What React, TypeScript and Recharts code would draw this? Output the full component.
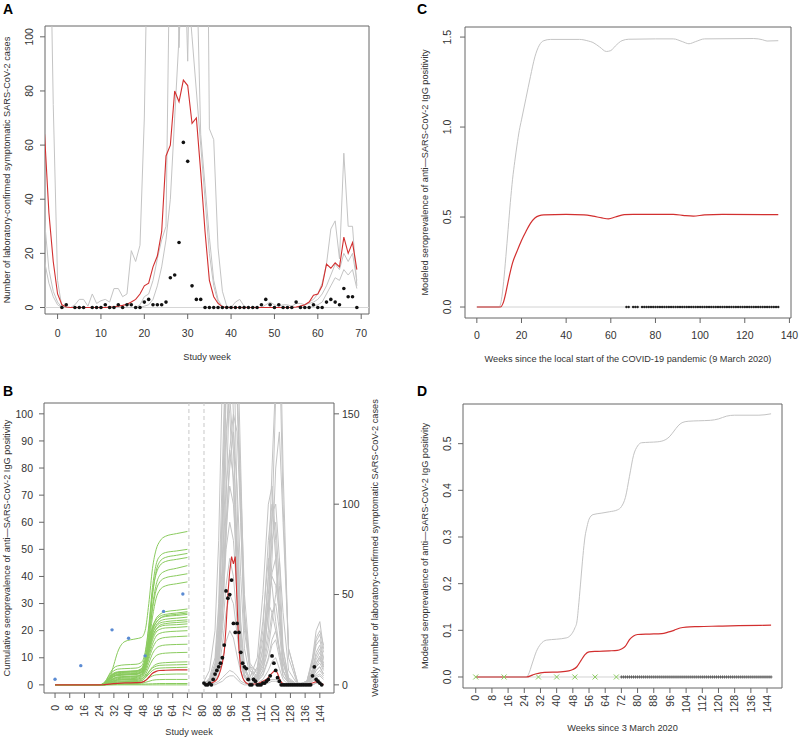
import React from 'react';
import { ComposedChart, Line, Scatter, XAxis, YAxis, ReferenceLine, ReferenceArea } from 'recharts';

const range = (a: number, b: number): number[] => {
  const r: number[] = [];
  for (let i = a; i <= b; i++) r.push(i);
  return r;
};

// ---------------- Panel A ----------------
const weeksA = range(-3, 69);
const medianA = [
  64, 35, 17, 5, 1, 0.2, 0, 0, 0, 0,
  0, 0, 0, 0, 0, 0.2, 0.3, 0.5, 0.8, 1.2,
  2, 3, 5, 8, 9, 15, 19, 28, 56, 60,
  80, 76, 84, 82, 68, 70, 50, 28, 10, 4,
  1.5, 0.3, 0, 0, 0, 0, 0, 0, 0, 0,
  0, 0, 0, 0, 0, 0, 0, 0, 0.2, 0.5,
  1, 2, 4.5, 5, 8, 16, 14.5, 16.5, 15, 26,
  20, 24, 14,
];
const upperA = [
  260, 170, 75, 10, 0, 0, 0, 1, 3, 3,
  0.5, 5, 1.5, 2.5, 3, 2, 7, 7, 4, 5,
  21, 17, 23, 70, 160, 250, 300, 320, 300, 260,
  170, 96, 150, 91, 180, 220, 240, 250, 66, 62,
  22, 6, 0.5, 0, 2, 3, 0.5, 0, 0, 0,
  0, 1, 2, 1, 0.5, 1, 1, 0.5, 1.5, 1.5,
  1, 2, 3, 5, 9, 16, 29, 32, 18, 57,
  30, 30, 8,
];
const middleA = [
  32, 14, 6, 2, 0, 0, 0, 0, 0, 0,
  0, 0, 0, 0, 0, 0, 0, 0, 0, 0,
  0, 0, 1, 4, 5, 10, 18, 25, 30, 150,
  220, 250, 240, 220, 200, 130, 64, 45, 26, 10,
  3, 0, 0, 0, 0, 0, 0, 0, 0, 0,
  0, 0, 0, 0, 0, 0, 0, 0, 0, 0.5,
  1, 1.5, 2, 3, 5, 8, 12, 16, 14, 20,
  17, 20, 10,
];
const lowerA = [
  17, 9, 4, 1, 0, 0, 0, 0, 0, 0,
  0, 0, 0, 0, 0, 0, 0, 0, 0, 0,
  0, 0, 0, 0.5, 1, 3, 8, 15, 25, 40,
  70, 100, 125, 120, 100, 80, 60, 40, 20, 8,
  2, 0, 0, 0, 0, 0, 0, 0, 0, 0,
  0, 0, 0, 0, 0, 0, 0, 0, 0, 0,
  0, 0, 0.5, 1, 2, 5, 8, 11, 10, 14,
  12, 14, 7,
];
const obsWeeksA = range(1, 69);
const obsA: (number | null)[] = [
  0, 1, null, 0, 0, 0, null, 0, 0, 0,
  1, 0, 0, 1, 0, 1, 1, 0, 0, 2,
  3, 1, 1, 1, 2, 11, 12, 24, 61, 54,
  8, 3, 3, 0, 0, 0, 0, 0, 0, 0,
  0, 0, 0, 0, 0, 0, 1, 3, 1, 0,
  1, 0, 0, 0, 2, 0, 0, 0, 1, 0,
  0, 2, 3, 2, 1, 7, 4, 4, 0,
];
const xTicksA = [0, 10, 20, 30, 40, 50, 60, 70];
const yTicksA = [0, 20, 40, 60, 80, 100];

// ---------------- Panel B ----------------
const greenWeeks = [0, 24, 26, 28, 30, 32, 34, 38, 44, 47, 49, 51, 53, 55, 57, 60, 66, 72];
const greenRuns = [
  [0, 0, 0, 0.3, 3, 7.5, 12, 16, 17, 17.5, 20, 30, 43, 50, 53, 54.8, 55.8, 56.6],
  [0, 0, 0.4, 2, 4.5, 6.3, 7, 7.4, 7.6, 8.3, 12, 22, 36, 44.5, 47.5, 48.8, 49.4, 50],
  [0, 0, 0.2, 1, 2.8, 4, 4.5, 4.8, 5, 5.8, 9, 19, 33, 42, 45.5, 47, 47.8, 48.5],
  [0, 0, 0.4, 1.8, 4, 5.2, 5.8, 6, 6.2, 7, 11, 21, 34, 41, 44, 45.5, 46.3, 47],
  [0, 0, 0.2, 1.2, 3, 4, 4.4, 4.6, 4.8, 5.5, 8.5, 17, 29, 37, 40.5, 42, 43, 44],
  [0, 0, 0.3, 1.5, 3.3, 4.4, 4.8, 5, 5.2, 6, 9, 17, 28, 35, 38, 39.5, 40.3, 41],
  [0, 0, 0.1, 0.8, 2.2, 3.2, 3.6, 3.8, 4, 4.6, 7.5, 15, 25, 32, 35, 36.5, 37.3, 38],
  [0, 0, 0.2, 1, 2.5, 3.4, 3.8, 4, 4.2, 5, 8, 15, 21, 24.5, 26, 27, 27.5, 28],
  [0, 0, 0.3, 1.4, 3.1, 4.2, 4.6, 4.9, 5.1, 6, 9.5, 16, 21.5, 24, 25.3, 26, 26.5, 27],
  [0, 0, 0.1, 0.7, 2, 3, 3.4, 3.6, 3.8, 4.5, 7.5, 14, 20, 23, 24.5, 25.5, 26, 26.5],
  [0, 0, 0.2, 1.1, 2.7, 3.7, 4.1, 4.3, 4.5, 5.3, 8.5, 15, 20.5, 23, 24.5, 25.2, 25.6, 26],
  [0, 0, 0.1, 0.6, 1.7, 2.5, 2.9, 3.1, 3.3, 4, 7, 13, 19, 22, 23.5, 24.2, 24.6, 25],
  [0, 0, 0.2, 0.9, 2.3, 3.2, 3.6, 3.8, 4, 4.8, 8, 14, 19, 21.5, 22.8, 23.3, 23.7, 24],
  [0, 0, 0.1, 0.5, 1.5, 2.2, 2.6, 2.8, 3, 3.6, 6.5, 12, 17.5, 20.5, 22, 22.6, 23, 23.3],
  [0, 0, 0.2, 1, 2.4, 3.3, 3.7, 3.9, 4.1, 4.8, 7.5, 13, 18, 20.5, 21.5, 22, 22.2, 22.5],
  [0, 0, 0.1, 0.6, 1.6, 2.4, 2.8, 3, 3.2, 3.8, 6.5, 11.5, 16.5, 19.5, 20.5, 21, 21.2, 21.5],
  [0, 0, 0.1, 0.5, 1.3, 2, 2.3, 2.5, 2.7, 3.3, 5.8, 10.5, 15, 18, 19, 19.5, 19.8, 20],
  [0, 0, 0.1, 0.4, 1.1, 1.7, 2, 2.2, 2.4, 3, 5.2, 9.5, 13.5, 16, 17, 17.5, 17.8, 18],
  [0, 0, 0.1, 0.4, 1, 1.5, 1.8, 2, 2.1, 2.6, 4.5, 8, 11.5, 13.5, 14.3, 14.7, 14.9, 15],
  [0, 0, 0, 0.3, 0.8, 1.2, 1.4, 1.5, 1.6, 2, 3.6, 6.5, 9.2, 10.8, 11.4, 11.7, 11.9, 12],
  [0, 0, 0, 0.2, 0.6, 0.9, 1.1, 1.2, 1.3, 1.6, 2.7, 4.8, 6.6, 7.6, 8, 8.2, 8.4, 8.5],
  [0, 0, 0.1, 0.3, 0.9, 1.4, 1.7, 1.9, 2, 2.3, 3.2, 4.8, 6.2, 6.9, 7.2, 7.3, 7.4, 7.5],
  [0, 0, 0, 0.2, 0.5, 0.8, 1, 1.1, 1.2, 1.5, 2.5, 4, 5.3, 6, 6.2, 6.3, 6.4, 6.5],
  [0, 0, 0, 0.1, 0.3, 0.5, 0.6, 0.7, 0.8, 1, 1.6, 2.6, 3.3, 3.7, 3.8, 3.9, 4, 4],
  [0, 0, 0, 0.1, 0.2, 0.3, 0.4, 0.4, 0.5, 0.6, 0.9, 1.3, 1.7, 1.9, 1.95, 2, 2, 2],
  [0, 0, 0, 0, 0.05, 0.1, 0.15, 0.2, 0.2, 0.25, 0.3, 0.35, 0.4, 0.45, 0.5, 0.5, 0.5, 0.5],
  [0, 0, 0, 0, 0, 0, 0, 0, 0, 0, 0, 0, 0, 0, 0, 0, 0, 0],
];
const seroMedianB = [0, 0, 0.05, 0.15, 0.3, 0.45, 0.55, 0.7, 0.8, 0.9, 1.5, 2.8, 4.3, 5, 5.3, 5.4, 5.5, 5.5];
const seroWeeks = [0, 14, 31, 40, 49, 59, 69.5];
const seroObserved = [2.1, 7.1, 20.3, 17.2, 10.7, 27.1, 33.5];

const grayWeeksB = [81, 84, 87, 89, 91, 93, 95, 97, 99, 101, 103, 106, 110, 113, 116, 118, 120, 122, 124, 127, 132, 137, 140, 142, 144, 146];
const grayRunsB = [
  [2, 8, 30, 80, 170, 280, 300, 240, 160, 90, 30, 8, 5, 12, 40, 90, 160, 220, 120, 15, 0, 2, 15, 30, 35, 20],
  [0, 3, 10, 30, 90, 200, 250, 260, 200, 120, 40, 10, 8, 25, 45, 40, 30, 20, 8, 1, 0, 0, 4, 8, 10, 6],
  [1, 2, 8, 25, 70, 160, 220, 200, 100, 30, 8, 4, 15, 50, 100, 110, 80, 40, 15, 2, 0, 1, 8, 16, 20, 12],
  [0, 4, 15, 45, 120, 190, 200, 150, 60, 20, 5, 2, 6, 20, 45, 60, 55, 40, 20, 4, 0, 2, 12, 22, 25, 15],
  [1, 1, 5, 15, 40, 100, 170, 180, 160, 110, 50, 12, 6, 15, 60, 120, 170, 190, 100, 20, 1, 0, 2, 4, 5, 3],
  [0, 2, 10, 35, 100, 165, 150, 110, 50, 15, 4, 1, 2, 6, 15, 25, 30, 18, 5, 1, 0, 2, 14, 26, 30, 22],
  [1, 3, 12, 40, 90, 140, 160, 130, 80, 35, 10, 3, 4, 15, 50, 80, 90, 55, 15, 3, 0, 1, 6, 12, 15, 10],
  [0, 1, 4, 12, 35, 80, 130, 150, 140, 90, 35, 8, 3, 8, 20, 35, 50, 70, 40, 8, 0, 0, 3, 6, 8, 5],
  [0, 2, 8, 25, 60, 110, 130, 115, 70, 25, 8, 2, 10, 35, 70, 55, 35, 20, 8, 2, 0, 1, 9, 18, 22, 14],
  [1, 2, 6, 18, 45, 85, 110, 100, 65, 30, 10, 3, 5, 20, 60, 95, 100, 70, 20, 3, 0, 1, 5, 10, 12, 8],
  [0, 1, 5, 15, 40, 75, 90, 80, 50, 20, 6, 1, 2, 5, 14, 22, 25, 15, 5, 1, 0, 2, 12, 24, 28, 18],
  [0, 1, 4, 12, 30, 55, 70, 60, 35, 14, 5, 1, 2, 8, 25, 40, 45, 30, 8, 1, 0, 1, 7, 14, 18, 11],
  [0, 1, 3, 9, 22, 40, 50, 45, 28, 12, 4, 1, 3, 12, 40, 62, 70, 45, 12, 2, 0, 0, 2, 5, 6, 4],
  [0, 0, 2, 6, 14, 24, 30, 26, 16, 7, 2, 0, 1, 3, 8, 13, 15, 9, 3, 0, 0, 1, 4, 8, 10, 6],
  [0, 0, 1, 2, 4, 6, 8, 7, 5, 2, 1, 0, 0, 1, 2, 3, 3, 2, 1, 0, 0, 0, 0, 1, 1, 0],
  [0, 0, 0, 1, 2, 4, 5, 5, 3, 1, 0, 0, 0, 0, 1, 2, 2, 1, 0, 0, 0, 0, 0, 1, 1, 0],
  [0, 1, 6, 20, 60, 130, 180, 200, 170, 100, 40, 10, 4, 10, 30, 70, 120, 140, 90, 20, 1, 1, 6, 12, 16, 10],
  [0, 2, 8, 22, 50, 90, 120, 140, 110, 60, 20, 5, 8, 30, 80, 100, 70, 35, 12, 2, 0, 1, 5, 10, 14, 9],
];
const caseWeeksB = range(81, 146);
const caseMedianB = [
  0.5, 0.5, 0.5, 1, 1, 1.5, 2, 3, 5, 8,
  12, 18, 32, 50, 63, 71, 67, 71, 45, 20,
  8, 4, 2, 1, 0.5, 0.3, 0.3, 0.5, 0.5, 0.8,
  1, 1.5, 2, 2.5, 3, 4, 5.5, 6.5, 7.5, 8,
  6.5, 3.5, 1.5, 0.5, 0.2, 0, 0, 0, 0, 0,
  0, 0, 0, 0, 0, 0, 0.2, 0.5, 0.8, 1,
  1.5, 1.8, 1.5, 1.2, 0.6, 0.2,
];
const obsWeeksB = range(81, 145);
const obsB = [
  1, 0, 0, 1, 0, 3, 6, 8, 10, 12,
  15, 22, 52, 48, 50, 58, 34, 29, 34, 29,
  18, 12, 10, 9, 3, 0, 0, 3, 2, 0,
  0, 0, 1, 1, 2, 3, 5, 16, 12, 8,
  4, 2, 0, 0, 0, 0, 0, 0, 0, 0,
  0, 0, 0, 0, 0, 0, 0, 0, 0, 5,
  10, 3, 2, 1, 0,
];
const xTicksB = [0, 8, 16, 24, 32, 40, 48, 56, 64, 72, 80, 88, 96, 104, 112, 120, 128, 136, 144];
const yTicksBLeft = [0, 10, 20, 30, 40, 50, 60, 70, 80, 90, 100];
const yTicksBRight = [0, 50, 100, 150];
const dividerWeeks = [72.8, 81];

// ---------------- Panel C ----------------
const upperCWeeks = [0, 10, 11, 12, 13, 14, 15, 16, 17, 18, 19, 20, 22, 24, 26, 28, 30, 33, 46, 50, 52, 55, 58, 60, 62, 65, 68, 80, 88, 92, 95, 98, 102, 124, 128, 130, 135];
const upperC = [0, 0, 0.04, 0.14, 0.28, 0.43, 0.58, 0.71, 0.81, 0.9, 0.98, 1.04, 1.16, 1.28, 1.39, 1.455, 1.48, 1.487, 1.487, 1.478, 1.47, 1.445, 1.42, 1.425, 1.45, 1.48, 1.488, 1.49, 1.49, 1.475, 1.463, 1.475, 1.49, 1.492, 1.485, 1.478, 1.48];
const medianCWeeks = [0, 10.5, 12, 13, 14, 16, 18, 20, 22, 24, 26, 28, 30, 40, 48, 52, 56, 59, 62, 66, 70, 88, 93, 97, 102, 110, 135];
const medianC = [0, 0, 0.03, 0.08, 0.14, 0.245, 0.31, 0.37, 0.42, 0.465, 0.495, 0.508, 0.512, 0.515, 0.512, 0.505, 0.495, 0.49, 0.5, 0.513, 0.515, 0.515, 0.508, 0.505, 0.512, 0.515, 0.513];
const baseCWeeks = [0, 135];
const obsWeeksC = [67, 68, 70, 71, 72, ...range(74, 135)];
const xTicksC = [0, 20, 40, 60, 80, 100, 120, 140];
const yTicksC = [0, 0.5, 1, 1.5];

// ---------------- Panel D ----------------
const upperDWeeks = [0, 25, 26, 28, 30, 32, 35, 40, 45, 47, 49, 50, 51, 52, 53, 54, 55, 56, 58, 62, 66, 70, 72, 74, 76, 78, 80, 82, 86, 90, 94, 96, 98, 100, 102, 105, 110, 116, 120, 124, 128, 140, 146];
const upperD = [0, 0, 0.005, 0.03, 0.055, 0.07, 0.079, 0.081, 0.084, 0.09, 0.105, 0.118, 0.16, 0.21, 0.26, 0.3, 0.322, 0.338, 0.348, 0.351, 0.354, 0.358, 0.365, 0.385, 0.43, 0.475, 0.495, 0.502, 0.503, 0.504, 0.509, 0.516, 0.527, 0.538, 0.545, 0.548, 0.549, 0.55, 0.553, 0.559, 0.561, 0.561, 0.564];
const medianDWeeks = [0, 25, 28, 30, 32, 34, 42, 46, 48, 50, 52, 54, 56, 60, 66, 70, 72, 74, 76, 78, 80, 86, 92, 95, 98, 101, 104, 110, 120, 130, 146];
const medianD = [0, 0, 0.004, 0.007, 0.009, 0.01, 0.011, 0.013, 0.016, 0.022, 0.035, 0.048, 0.054, 0.055, 0.056, 0.057, 0.06, 0.066, 0.08, 0.088, 0.091, 0.092, 0.093, 0.096, 0.1, 0.105, 0.107, 0.108, 0.109, 0.11, 0.111];
const baseDWeeks = [0, 72];
const obsWeeksD = range(72, 146);
const xTicksD = xTicksB;
const yTicksD = [0, 0.1, 0.2, 0.3, 0.4, 0.5];

// ---------------- styling ----------------
const TXT = '#333333';
const AXIS = '#666666';
const BOX = '#666666';
const GRAY = '#c4c4c4';
const RED = '#d22f2f';
const GREEN = '#8acb5e';
const BLUE = '#5b8bd3';
const FONT = '"Liberation Sans", Arial, Helvetica, sans-serif';
const TICK_FS = 10.5;
const TITLE_FS = 9.2;

const pts = (xs: number[], ys: (number | null)[]) =>
  xs.map((x, i) => ({ x, y: ys[i] })).filter((p) => p.y !== null && p.y !== undefined);

const rotYTick = (fmt: (v: number) => string) => (props: any) => {
  const { x, y, payload } = props;
  return (
    <text x={x} y={y} transform={`rotate(-90 ${x} ${y})`} textAnchor="middle" fontSize={TICK_FS} fill={TXT}>
      {fmt(payload.value)}
    </text>
  );
};

const rotXTick = (props: any) => {
  const { x, y, payload } = props;
  return (
    <g transform={`translate(${x},${y}) rotate(-90)`}>
      <text x={0} y={0} dy="0.35em" textAnchor="end" fontSize={TICK_FS} fill={TXT}>
        {payload.value}
      </text>
    </g>
  );
};

const dotShape = (r: number, fill: string) => (p: any) => <circle cx={p.cx} cy={p.cy} r={r} fill={fill} />;
const plusShape = (p: any) => (
  <g stroke="#333" strokeWidth={0.7}>
    <line x1={p.cx - 1.5} y1={p.cy} x2={p.cx + 1.5} y2={p.cy} />
    <line x1={p.cx} y1={p.cy - 1.6} x2={p.cx} y2={p.cy + 1.6} />
  </g>
);
const crossShape = (p: any) => (
  <g stroke={GREEN} strokeWidth={1}>
    <line x1={p.cx - 2.5} y1={p.cy - 2.5} x2={p.cx + 2.5} y2={p.cy + 2.5} />
    <line x1={p.cx - 2.5} y1={p.cy + 2.5} x2={p.cx + 2.5} y2={p.cy - 2.5} />
  </g>
);

const fmt1 = (v: number) => v.toFixed(1);

function PanelA() {
  const xd: [number, number] = [-2.9, 71.8];
  const yd: [number, number] = [-2.4, 104];
  return (
    <ComposedChart width={400} height={370} margin={{ top: 26, right: 31, bottom: 0, left: 0 }}>
      <XAxis type="number" dataKey="x" domain={xd} ticks={xTicksA} interval={0} allowDataOverflow axisLine={false}
        tickLine={{ stroke: AXIS }} tickSize={5} tickMargin={11} height={56} tick={{ fontSize: TICK_FS, fill: TXT }} />
      <YAxis type="number" dataKey="y" domain={yd} ticks={yTicksA} interval={0} allowDataOverflow axisLine={false}
        tickLine={{ stroke: AXIS }} tickSize={5} tickMargin={7} width={45} tick={rotYTick((v) => String(v))} />
      <ReferenceLine y={0} stroke="#d6d6d6" ifOverflow="visible" />
      <Line data={pts(weeksA, upperA)} dataKey="y" type="linear" stroke={GRAY} strokeWidth={1} dot={false} isAnimationActive={false} />
      <Line data={pts(weeksA, middleA)} dataKey="y" type="linear" stroke={GRAY} strokeWidth={1} dot={false} isAnimationActive={false} />
      <Line data={pts(weeksA, lowerA)} dataKey="y" type="linear" stroke={GRAY} strokeWidth={1} dot={false} isAnimationActive={false} />
      <Line data={pts(weeksA, medianA)} dataKey="y" type="linear" stroke={RED} strokeWidth={1.1} dot={false} isAnimationActive={false} />
      <Scatter data={pts(obsWeeksA, obsA)} dataKey="y" shape={dotShape(1.8, '#111')} isAnimationActive={false} />
      <ReferenceArea x1={xd[0]} x2={xd[1]} y1={yd[0]} y2={yd[1]} fill="none" fillOpacity={0} stroke={BOX} strokeWidth={1} ifOverflow="visible" />
    </ComposedChart>
  );
}

function PanelB() {
  const xd: [number, number] = [-6, 151.7];
  const yl: [number, number] = [-3, 104];
  const yr: [number, number] = [-4.5, 156];
  return (
    <ComposedChart width={400} height={369} margin={{ top: 33, right: 26, bottom: 0, left: 0 }}>
      <XAxis type="number" dataKey="x" domain={xd} ticks={xTicksB} interval={0} allowDataOverflow axisLine={false}
        tickLine={{ stroke: AXIS }} tickSize={5} tickMargin={7} height={46} tick={rotXTick} />
      <YAxis yAxisId="left" type="number" dataKey="y" domain={yl} ticks={yTicksBLeft} interval={0} allowDataOverflow axisLine={false}
        tickLine={{ stroke: AXIS }} tickSize={5} tickMargin={6} width={44} tick={{ fontSize: TICK_FS, fill: TXT }} />
      <YAxis yAxisId="right" orientation="right" type="number" dataKey="y" domain={yr} ticks={yTicksBRight} interval={0} allowDataOverflow axisLine={false}
        tickLine={{ stroke: AXIS }} tickSize={5} tickMargin={3} width={40} tick={{ fontSize: TICK_FS, fill: TXT }} />
      {dividerWeeks.map((w) => (
        <ReferenceLine key={'d' + w} yAxisId="left" x={w} stroke="#c8c8c8" strokeDasharray="4 3" />
      ))}
      {greenRuns.map((run, i) => (
        <Line key={'g' + i} yAxisId="left" data={pts(greenWeeks, run)} dataKey="y" type="monotone" stroke={GREEN} strokeWidth={1} dot={false} isAnimationActive={false} />
      ))}
      <Line yAxisId="left" data={pts(greenWeeks, seroMedianB)} dataKey="y" type="monotone" stroke={RED} strokeWidth={1.2} dot={false} isAnimationActive={false} />
      <Scatter yAxisId="left" data={pts(seroWeeks, seroObserved)} dataKey="y" shape={dotShape(1.7, BLUE)} isAnimationActive={false} />
      {grayRunsB.map((run, i) => (
        <Line key={'c' + i} yAxisId="right" data={pts(grayWeeksB, run)} dataKey="y" type="linear" stroke={GRAY} strokeWidth={1} dot={false} isAnimationActive={false} />
      ))}
      <Line yAxisId="right" data={pts(caseWeeksB, caseMedianB)} dataKey="y" type="linear" stroke={RED} strokeWidth={1.1} dot={false} isAnimationActive={false} />
      <Scatter yAxisId="right" data={pts(obsWeeksB, obsB)} dataKey="y" shape={dotShape(1.9, '#111')} isAnimationActive={false} />
      <ReferenceArea yAxisId="left" x1={xd[0]} x2={xd[1]} y1={yl[0]} y2={yl[1]} fill="none" fillOpacity={0} stroke={BOX} strokeWidth={1} ifOverflow="visible" />
    </ComposedChart>
  );
}

function PanelC() {
  const xd: [number, number] = [-5.3, 140.7];
  const yd: [number, number] = [-0.061, 1.556];
  return (
    <ComposedChart width={399} height={370} margin={{ top: 27, right: 8, bottom: 0, left: 0 }}>
      <XAxis type="number" dataKey="x" domain={xd} ticks={xTicksC} interval={0} allowDataOverflow axisLine={false}
        tickLine={{ stroke: AXIS }} tickSize={5} tickMargin={9} height={52} tick={{ fontSize: TICK_FS, fill: TXT }} />
      <YAxis type="number" dataKey="y" domain={yd} ticks={yTicksC} interval={0} allowDataOverflow axisLine={false}
        tickLine={{ stroke: AXIS }} tickSize={5} tickMargin={9} width={65} tick={rotYTick(fmt1)} />
      <Line data={pts(baseCWeeks, [0, 0])} dataKey="y" type="linear" stroke="#d2d2d2" strokeWidth={1} dot={false} isAnimationActive={false} />
      <Line data={pts(upperCWeeks, upperC)} dataKey="y" type="monotone" stroke={GRAY} strokeWidth={1} dot={false} isAnimationActive={false} />
      <Line data={pts(medianCWeeks, medianC)} dataKey="y" type="monotone" stroke={RED} strokeWidth={1.2} dot={false} isAnimationActive={false} />
      <Scatter data={pts(obsWeeksC, obsWeeksC.map(() => 0))} dataKey="y" shape={dotShape(1.2, '#222')} isAnimationActive={false} />
      <ReferenceArea x1={xd[0]} x2={xd[1]} y1={yd[0]} y2={yd[1]} fill="none" fillOpacity={0} stroke={BOX} strokeWidth={1} ifOverflow="visible" />
    </ComposedChart>
  );
}

function PanelD() {
  const xd: [number, number] = [-6.3, 151.4];
  const yd: [number, number] = [-0.0236, 0.585];
  return (
    <ComposedChart width={399} height={369} margin={{ top: 34, right: 17, bottom: 0, left: 0 }}>
      <XAxis type="number" dataKey="x" domain={xd} ticks={xTicksD} interval={0} allowDataOverflow axisLine={false}
        tickLine={{ stroke: AXIS }} tickSize={5} tickMargin={2} height={51} tick={rotXTick} />
      <YAxis type="number" dataKey="y" domain={yd} ticks={yTicksD} interval={0} allowDataOverflow axisLine={false}
        tickLine={{ stroke: AXIS }} tickSize={5} tickMargin={7} width={63} tick={rotYTick(fmt1)} />
      <Line data={pts(baseDWeeks, [0, 0])} dataKey="y" type="linear" stroke="#d2d2d2" strokeWidth={1} dot={false} isAnimationActive={false} />
      <Line data={pts(upperDWeeks, upperD)} dataKey="y" type="monotone" stroke={GRAY} strokeWidth={1} dot={false} isAnimationActive={false} />
      <Line data={pts(medianDWeeks, medianD)} dataKey="y" type="monotone" stroke={RED} strokeWidth={1.2} dot={false} isAnimationActive={false} />
      <Scatter data={pts(seroWeeks, seroWeeks.map(() => 0))} dataKey="y" shape={crossShape} isAnimationActive={false} />
      <Scatter data={pts(obsWeeksD, obsWeeksD.map(() => 0))} dataKey="y" shape={plusShape} isAnimationActive={false} />
      <ReferenceArea x1={xd[0]} x2={xd[1]} y1={yd[0]} y2={yd[1]} fill="none" fillOpacity={0} stroke={BOX} strokeWidth={1} ifOverflow="visible" />
    </ComposedChart>
  );
}

function Titles() {
  const t = { fontSize: TITLE_FS, fill: TXT } as const;
  const L = { fontSize: 14, fontWeight: 700, fill: '#000' } as const;
  return (
    <svg width={799} height={739} style={{ position: 'absolute', left: 0, top: 0, pointerEvents: 'none' }}>
      <text x={3} y={14} {...L}>A</text>
      <text x={3} y={396} {...L}>B</text>
      <text x={417} y={14} {...L}>C</text>
      <text x={417} y={396} {...L}>D</text>

      <text transform="translate(10,170) rotate(-90)" textAnchor="middle" {...t}>
        Number of laboratory-confirmed symptomatic SARS-CoV-2 cases
      </text>
      <text x={207} y={360} textAnchor="middle" {...t}>Study week</text>

      <text transform="translate(10,548) rotate(-90)" textAnchor="middle" {...t}>
        Cumulative seroprevalence of anti—SARS-CoV-2 IgG positivity
      </text>
      <text transform="translate(378,548) rotate(-90)" textAnchor="middle" {...t}>
        Weekly number of laboratory-confirmed symptomatic SARS-CoV-2 cases
      </text>
      <text x={189} y={735} textAnchor="middle" {...t}>Study week</text>

      <text transform="translate(428,172.5) rotate(-90)" textAnchor="middle" {...t}>
        Modeled seroprevalence of anti—SARS-CoV-2 IgG positivity
      </text>
      <text x={628} y={362} textAnchor="middle" {...t}>
        Weeks since the local start of the COVID-19 pandemic (9 March 2020)
      </text>

      <text transform="translate(428,546) rotate(-90)" textAnchor="middle" {...t}>
        Modeled seroprevalence of anti—SARS-CoV-2 IgG positivity
      </text>
      <text x={622.5} y={731} textAnchor="middle" {...t}>Weeks since 3 March 2020</text>
    </svg>
  );
}

export default function App() {
  return (
    <div style={{ position: 'absolute', left: 0, top: 0, width: 799, height: 739, background: '#fff', fontFamily: FONT, overflow: 'hidden' }}>
      <div style={{ position: 'absolute', left: 0, top: 0 }}><PanelA /></div>
      <div style={{ position: 'absolute', left: 0, top: 370 }}><PanelB /></div>
      <div style={{ position: 'absolute', left: 400, top: 0 }}><PanelC /></div>
      <div style={{ position: 'absolute', left: 400, top: 370 }}><PanelD /></div>
      <Titles />
    </div>
  );
}
